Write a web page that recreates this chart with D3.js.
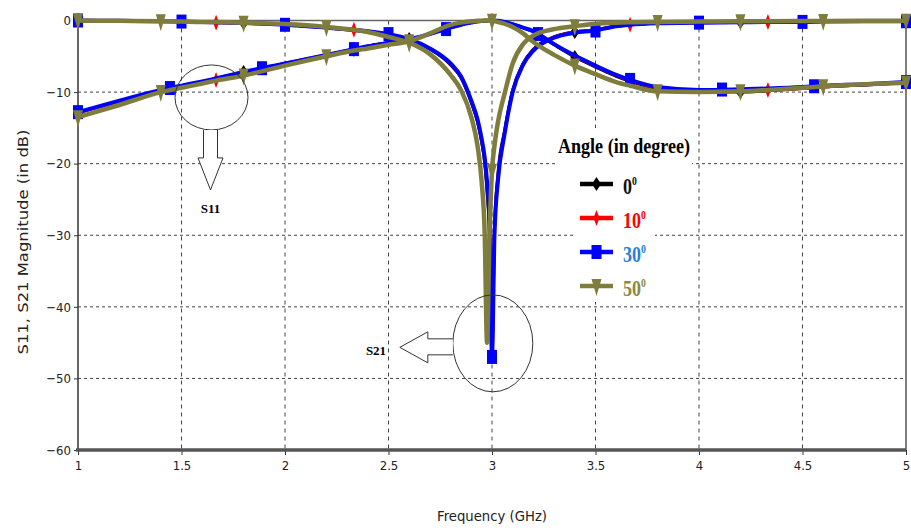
<!DOCTYPE html>
<html>
<head>
<meta charset="utf-8">
<script src="https://cdn.jsdelivr.net/npm/d3@7"></script>
<style>
body { margin: 0; background: #fff; }
</style>
</head>
<body>
<svg width="911" height="530"></svg>
<script>
// frequency grid (GHz), shared by all curves
var freq = [1.0, 1.2, 1.4, 1.5, 1.6, 1.667, 1.8,
            2.0, 2.2, 2.333, 2.4, 2.5, 2.6, 2.7,
            2.8, 2.85, 2.9, 2.93, 2.95, 2.965, 2.976,
            2.988, 3.0, 3.012, 3.03, 3.06, 3.1, 3.15,
            3.2, 3.3, 3.4, 3.5, 3.6, 3.667, 3.8,
            4.0, 4.2, 4.333, 4.5, 4.6, 4.8, 5.0];

// angle 0 deg
var s11_0 = [-12.9, -11.3, -9.8, -9.2, -8.6, -8.1, -7.2,
             -6.0, -4.8, -4.0, -3.6, -3.1, -2.6, -1.9,
             -1.0, -0.6, -0.3, -0.15, -0.08, -0.04, -0.02,
             0, 0, 0, -0.05, -0.2, -0.5, -1.0,
             -1.6, -3.4, -5.1, -6.5, -7.8, -8.5, -9.5,
             -9.9, -10.0, -9.8, -9.5, -9.3, -9.0, -8.7];
var s21_0 = [0, -0.05, -0.1, -0.15, -0.2, -0.25, -0.35,
             -0.6, -1.0, -1.4, -1.6, -2.0, -2.7, -4.0,
             -6.2, -8.0, -11.5, -14.2, -17.0, -20, -24,
             -30, -46, -29, -21, -15.5, -9.7, -6.0,
             -4.0, -2.3, -1.6, -1.3, -0.8, -0.6, -0.4,
             -0.3, -0.2, -0.2, -0.15, -0.1, -0.1, -0.05];

// angle 10 deg
var s11_10 = [-12.9, -11.3, -9.8, -9.2, -8.7, -8.3, -7.3,
              -6.0, -4.8, -4.0, -3.6, -3.1, -2.6, -1.9,
              -1.0, -0.6, -0.3, -0.15, -0.08, -0.04, -0.02,
              0, 0, 0, -0.05, -0.2, -0.5, -1.0,
              -1.5, -3.3, -5.0, -6.4, -7.7, -8.4, -9.4,
              -9.8, -9.8, -9.7, -9.5, -9.3, -9.0, -8.7];
var s21_10 = [0, -0.05, -0.1, -0.15, -0.2, -0.3, -0.4,
              -0.6, -1.0, -1.3, -1.5, -1.9, -2.6, -3.9,
              -6.1, -7.9, -11.3, -14.0, -16.8, -19.6, -23,
              -29, -46.5, -29.5, -21.5, -15.8, -9.9, -6.1,
              -4.1, -2.3, -1.6, -1.3, -0.8, -0.6, -0.4,
              -0.3, -0.25, -0.2, -0.2, -0.15, -0.1, -0.1];

// angle 30 deg
var s11_30 = [-12.8, -11.2, -9.7, -9.1, -8.5, -8.1, -7.2,
              -6.0, -4.8, -4.0, -3.6, -3.1, -2.6, -1.9,
              -1.0, -0.6, -0.3, -0.15, -0.08, -0.04, -0.02,
              0, 0, 0, -0.05, -0.2, -0.5, -1.0,
              -1.5, -3.3, -4.9, -6.3, -7.6, -8.3, -9.3,
              -9.7, -9.6, -9.5, -9.3, -9.1, -8.9, -8.6];
var s21_30 = [0, -0.05, -0.1, -0.15, -0.2, -0.25, -0.35,
              -0.6, -1.0, -1.3, -1.5, -1.9, -2.6, -3.9,
              -6.0, -7.8, -11.2, -13.8, -16.5, -19.2, -22.5,
              -28, -47, -30, -22, -16, -10, -6.2,
              -4.2, -2.4, -1.7, -1.4, -0.8, -0.6, -0.4,
              -0.3, -0.25, -0.2, -0.2, -0.15, -0.1, -0.1];

// angle 50 deg
var s11_50 = [-13.5, -11.8, -10.0, -9.4, -8.8, -8.4, -7.7,
              -6.3, -5.0, -4.2, -3.9, -3.4, -2.9, -1.8,
              -0.6, -0.3, -0.1, -0.05, -0.02, 0, 0,
              0, -0.05, -0.1, -0.2, -0.45, -0.9, -1.8,
              -3.0, -4.8, -6.3, -7.5, -8.6, -9.1, -9.9,
              -10.0, -9.9, -9.7, -9.4, -9.2, -8.9, -8.7];
var s21_50 = [0, -0.05, -0.1, -0.15, -0.2, -0.2, -0.3,
              -0.5, -0.9, -1.3, -1.6, -2.3, -3.1, -4.7,
              -7.6, -9.7, -13.5, -17.5, -22.5, -30, -45,
              -30, -21, -17.5, -14, -10.3, -6.0, -3.3,
              -2.1, -1.2, -0.8, -0.45, -0.3, -0.25, -0.2,
              -0.15, -0.1, -0.1, -0.08, -0.06, -0.05, -0.05];

// where the markers sit (GHz)
var marks_0 = [1, 1.8, 2.6, 3.4, 4.2, 5];
var marks_10 = [1, 1.667, 2.333, 3, 3.667, 4.333, 5];
var marks_30_s21 = [1, 1.5, 2, 2.5, 3, 3.5, 4, 4.5, 5];
var marks_30_s11 = [1, 1.444, 1.889, 2.333, 2.778, 3.222, 3.667, 4.111, 4.556, 5];
var marks_50 = [1, 1.4, 1.8, 2.2, 2.6, 3, 3.4, 3.8, 4.2, 4.6, 5];

var xTicks = [1, 1.5, 2, 2.5, 3, 3.5, 4, 4.5, 5];
var yTicks = [-60, -50, -40, -30, -20, -10, 0];
var angles = ["0", "10", "30", "50"];

var svg = d3.select("svg");

var x = d3.scaleLinear().domain([1, 5]).range([78, 906]);
var y = d3.scaleLinear().domain([-60, 0]).range([450, 20.5]);

var shapes = {
    diamond: "M0,-7L4.5,0L0,7L-4.5,0Z",
    thin: "M0,-8L3,0L0,8L-3,0Z",
    square: "M-5,-7H5V7H-5Z",
    tri: "M-5,-7H5L0,10Z"
};

var series = [
    { color: "#000000", width: 3, s11: s11_0, s21: s21_0, m11: marks_0, m21: marks_0, shape: "diamond", text: "#111111" },
    { color: "#ff0000", width: 3, s11: s11_10, s21: s21_10, m11: marks_10, m21: marks_10, shape: "thin", text: "#ff0000" },
    { color: "#0000ff", width: 4, s11: s11_30, s21: s21_30, m11: marks_30_s11, m21: marks_30_s21, shape: "square", text: "#2a7fd4" },
    { color: "#7f7d3c", width: 4.5, s11: s11_50, s21: s21_50, m11: marks_50, m21: marks_50, shape: "tri", text: "#8a8a3c" }
];

// grid
var grid = svg.append("g");
grid.selectAll(".vg").data(xTicks.slice(1, -1)).enter().append("line")
    .attr("x1", x).attr("x2", x)
    .attr("y1", y(0)).attr("y2", y(-60))
    .attr("stroke", "#444").attr("stroke-dasharray", "4,4");
grid.selectAll(".hg").data(yTicks.slice(1, -1)).enter().append("line")
    .attr("x1", x(1)).attr("x2", x(5))
    .attr("y1", y).attr("y2", y)
    .attr("stroke", "#444").attr("stroke-dasharray", "3,3");

// frame
svg.append("line").attr("x1", x(1)).attr("x2", x(5)).attr("y1", y(0)).attr("y2", y(0))
    .attr("stroke", "#666").attr("stroke-width", 1.5);
svg.append("line").attr("x1", x(5)).attr("x2", x(5)).attr("y1", y(0)).attr("y2", y(-60))
    .attr("stroke", "#555").attr("stroke-width", 1.5);

// legend background boxes (cover grid)
svg.append("rect").attr("x", 555).attr("y", 128).attr("width", 137).attr("height", 39).attr("fill", "#fff");
svg.append("rect").attr("x", 575).attr("y", 166).attr("width", 80).attr("height", 136).attr("fill", "#fff");

// axes
var xAxis = svg.append("g").attr("transform", "translate(0," + y(-60) + ")")
    .call(d3.axisBottom(x).tickValues(xTicks).tickFormat(d3.format("")).tickSize(5).tickPadding(6));
var yAxis = svg.append("g").attr("transform", "translate(" + x(1) + ",0)")
    .call(d3.axisLeft(y).tickValues(yTicks).tickSize(4).tickPadding(3));
[xAxis, yAxis].forEach(function (a) {
    a.select(".domain").remove();
    a.selectAll(".tick line").attr("stroke", "#333");
    a.selectAll("text").attr("font-family", "'DejaVu Sans Condensed', 'DejaVu Sans', sans-serif")
        .attr("font-size", 13).attr("fill", "#222");
});
svg.append("line").attr("x1", x(1)).attr("x2", x(1)).attr("y1", y(0)).attr("y2", y(-60))
    .attr("stroke", "#333").attr("stroke-width", 1.5);
svg.append("line").attr("x1", x(1) - 2).attr("x2", x(5)).attr("y1", y(-60)).attr("y2", y(-60))
    .attr("stroke", "#555").attr("stroke-width", 3.5);

svg.append("text").attr("x", x(3)).attr("y", 521).attr("text-anchor", "middle")
    .attr("font-family", "'DejaVu Sans', sans-serif").attr("font-size", 14).attr("fill", "#222")
    .attr("textLength", 110).attr("lengthAdjust", "spacingAndGlyphs")
    .text("Frequency (GHz)");
svg.append("text").attr("transform", "translate(28,242) rotate(-90)").attr("text-anchor", "middle")
    .attr("font-family", "'DejaVu Sans', sans-serif").attr("font-size", 14).attr("fill", "#222")
    .attr("textLength", 225).attr("lengthAdjust", "spacingAndGlyphs")
    .text("S11, S21 Magnitude (in dB)");

// curves
var line = d3.line()
    .x(function (d) { return x(d[0]); })
    .y(function (d) { return y(d[1]); })
    .curve(d3.curveMonotoneX);

var plot = svg.append("g");
series.forEach(function (s) {
    [[s.s11, s.m11], [s.s21, s.m21]].forEach(function (pair) {
        var vals = pair[0];
        var pts = freq.map(function (f, i) { return [f, vals[i]]; });
        plot.append("path").datum(pts)
            .attr("d", line)
            .attr("fill", "none")
            .attr("stroke", s.color)
            .attr("stroke-width", s.width)
            .attr("stroke-linejoin", "round");
        var at = d3.scaleLinear().domain(freq).range(vals);
        plot.append("g").selectAll("path").data(pair[1]).enter().append("path")
            .attr("d", shapes[s.shape])
            .attr("fill", s.color)
            .attr("transform", function (f) { return "translate(" + x(f) + "," + y(at(f)) + ")"; });
    });
});

// annotations
var ann = svg.append("g").attr("fill", "none").attr("stroke", "#333").attr("stroke-width", 1);
var c1 = [x(1.645), y(-10.75)];
ann.append("ellipse").attr("cx", c1[0]).attr("cy", c1[1]).attr("rx", 36.5).attr("ry", 32.5);
ann.append("path").attr("fill", "#fff")
    .attr("d", "M" + (c1[0] - 8) + "," + (c1[1] + 32.5) + "v28h-5.5l12.5,32l12.5,-32h-5.5v-28");
var c2 = [x(3.004), y(-45.1)];
ann.append("ellipse").attr("cx", c2[0]).attr("cy", c2[1]).attr("rx", 40).attr("ry", 48.5);
ann.append("path").attr("fill", "#fff")
    .attr("d", "M" + (c2[0] - 40) + "," + (c2[1] - 4.5) + "h-25v-7l-28,15.5l28,15.5v-8h25");
svg.append("text").attr("x", c1[0] - 1).attr("y", 213).attr("text-anchor", "middle")
    .attr("font-family", "'Liberation Serif', serif").attr("font-weight", "bold").attr("font-size", 13)
    .text("S11");
svg.append("text").attr("x", 376).attr("y", 355).attr("text-anchor", "middle")
    .attr("font-family", "'Liberation Serif', serif").attr("font-weight", "bold").attr("font-size", 13)
    .text("S21");

// legend
var leg = svg.append("g");
leg.append("text").attr("x", 558).attr("y", 153)
    .attr("font-family", "'Liberation Serif', serif").attr("font-weight", "bold").attr("font-size", 22)
    .attr("textLength", 132).attr("lengthAdjust", "spacingAndGlyphs")
    .text("Angle (in degree)");
var legY = [184, 218, 252, 286];
series.forEach(function (s, i) {
    var g = leg.append("g").attr("transform", "translate(0," + legY[i] + ")");
    g.append("line").attr("x1", 580).attr("x2", 613).attr("stroke", s.color).attr("stroke-width", 4.5);
    g.append("path").attr("d", shapes[s.shape]).attr("fill", s.color).attr("transform", "translate(596.5,0)");
    var t = g.append("text").attr("transform", "translate(623,10) scale(0.75,1)")
        .attr("font-family", "'Liberation Serif', serif").attr("font-weight", "bold").attr("font-size", 24)
        .attr("fill", s.text);
    t.append("tspan").text(angles[i]);
    t.append("tspan").attr("dy", -9).attr("font-size", 13).text("0");
});
</script>
</body>
</html>
